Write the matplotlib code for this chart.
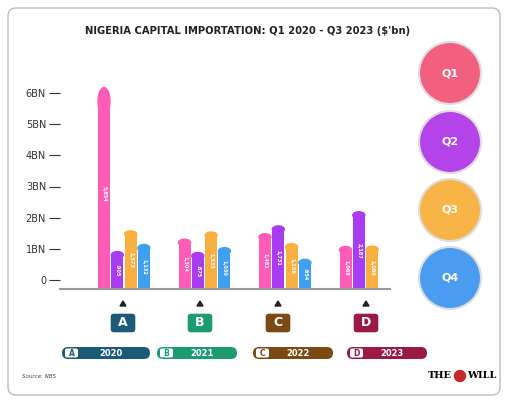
import matplotlib
matplotlib.use("Agg")
import matplotlib.pyplot as plt
from matplotlib.patches import FancyBboxPatch, Circle, Polygon, Ellipse

years = ["2020", "2021", "2022", "2023"]
letters = ["A", "B", "C", "D"]
quarters = ["Q1", "Q2", "Q3", "Q4"]
values = [[5.854, 0.905, 1.573, 1.132],
          [1.304, 0.875, 1.535, 1.030],
          [1.481, 1.731, 1.159, 0.654],
          [1.069, 2.187, 1.080]]
labels = [["5,854", ".905", "1,573", "1,132"],
          ["1,304", ".875", "1,535", "1,030"],
          ["1,481", "1,731", "1,159", ".654"],
          ["1,069", "2,187", "1,080"]]
yticks = [0, 1, 2, 3, 4, 5, 6]
ytick_labels = ["0", "1BN", "2BN", "3BN", "4BN", "5BN", "6BN"]

bar_colors = ["#ff5cb8", "#a93cf2", "#f9b040", "#3f9ff0"]
circ_colors = ["#f3607f", "#b444ea", "#f8b446", "#4a9cf0"]
grp_colors = ["#1d5a78", "#1c9b6f", "#7b4a12", "#9b1a44"]

W, H = 508, 403
fig = plt.figure(figsize=(W/100, H/100), dpi=100)
ov = fig.add_axes([0, 0, 1, 1])
ov.set_xlim(0, W); ov.set_ylim(H, 0); ov.axis("off")
ov.add_patch(FancyBboxPatch((8, 8), 492, 387, boxstyle="round,pad=0,rounding_size=8",
                            fc="white", ec="#bdbdbd", lw=1))
ov.text(248, 31, "NIGERIA CAPITAL IMPORTATION: Q1 2020 - Q3 2023 ($'bn)", ha="center",
        va="center", fontsize=7.2, fontweight="bold", color="#222222")

ax = fig.add_axes([60/W, 1-289/H, 330/W, 205/H])
ax.set_xlim(60, 390); ax.set_ylim(-0.3, 6.3)
base = -0.3
cap = 0.22
for g, vals in enumerate(values):
    x0 = 104 + g*80.5
    for q, v in enumerate(vals):
        x = x0 + q*13.3
        top = v - cap/2
        ax.bar(x, top-base, bottom=base, width=12, color=bar_colors[q], zorder=2)
        ax.add_patch(Ellipse((x, top), 12, cap if v < 3 else cap*4, color=bar_colors[q], zorder=2))
        ax.text(x, (v+base)/2, labels[g][q], rotation=-90,
                ha="center", va="center", fontsize=3.6, color="white", fontweight="bold", zorder=3)
for s in ["top", "right", "left"]:
    ax.spines[s].set_visible(False)
ax.spines["bottom"].set_color("#999999"); ax.spines["bottom"].set_linewidth(1.5)
ax.set_xticks([])
ax.set_yticks(yticks)
ax.set_yticklabels(ytick_labels, fontsize=7, color="#333333")
ax.tick_params(axis="y", length=8, color="#333333", pad=2)

centers = [123, 200, 278, 366]
pills = [(62, 150), (157, 237), (253, 333), (347, 427)]
for i in range(4):
    c = centers[i]
    ov.add_patch(Polygon([[c-3, 306], [c+3, 306], [c, 301]], color="#222222"))
    ov.add_patch(FancyBboxPatch((c-13, 313), 26, 20, boxstyle="round,pad=0,rounding_size=4",
                                fc=grp_colors[i], ec="white", lw=1))
    ov.text(c, 323, letters[i], ha="center", va="center", fontsize=9, fontweight="bold", color="white")
    a, b = pills[i]
    ov.add_patch(FancyBboxPatch((a, 347), b-a, 12, boxstyle="round,pad=0,rounding_size=6",
                                fc=grp_colors[i], ec="none"))
    ov.add_patch(FancyBboxPatch((a+3, 348.5), 13, 9, boxstyle="round,pad=0,rounding_size=2",
                                fc="white", ec="none"))
    ov.text(a+9.5, 353, letters[i], ha="center", va="center", fontsize=5.5, fontweight="bold",
            color=grp_colors[i])
    ov.text((a+b)/2+5, 353, years[i], ha="center", va="center", fontsize=6, fontweight="bold", color="white")

for i, (yc, q) in enumerate(zip([73, 142, 210, 278], quarters)):
    ov.add_patch(Circle((450, yc), 31, fc=circ_colors[i], ec="#dddddd", lw=1.5))
    ov.text(450, yc, q, ha="center", va="center", fontsize=8, fontweight="bold", color="white")

ov.text(22, 376, "Source: NBS", fontsize=4, style="italic", color="#444444", va="center")
ov.text(452, 376, "THE", fontsize=7, fontweight="bold", family="DejaVu Serif", ha="right", va="center")
ov.add_patch(Circle((460, 376), 5.5, color="#c62828"))
ov.text(467, 376, "WILL", fontsize=7, fontweight="bold", family="DejaVu Serif", ha="left", va="center")

fig.savefig("out.png", dpi=100)
